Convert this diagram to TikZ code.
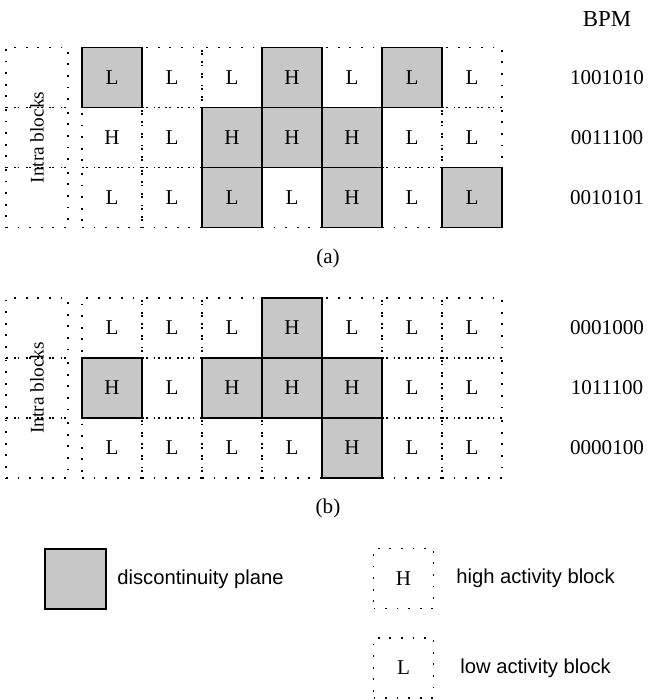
\documentclass[tikz,border=0pt]{standalone}
\usepackage{fontspec}
\setmainfont{Liberation Serif}
\newfontfamily\legendfont{Liberation Sans}
\newcommand\blkfont{\fontsize{12}{14}\selectfont}
\newcommand\legfont{\legendfont\fontsize{11.5}{13}\selectfont}
\usetikzlibrary{positioning,backgrounds}

\begin{document}
\begin{tikzpicture}[
    blk/.style={minimum width=12mm, minimum height=12mm, inner sep=0pt, outer sep=0pt,
                font=\blkfont},
    blk/0/.style={blk, draw, line width=0.9pt, dash pattern=on 1pt off 5.6pt},
    blk/1/.style={blk, draw, thick, fill=black!22},
    intra/.style={blk/0, minimum width=12.4mm},
    lbl/.style={inner sep=1pt, font=\blkfont},
    side/.style={rotate=90, inner sep=0pt, font=\fontsize{11}{13}\selectfont},
    leg/.style={font=\legfont, anchor=west, inner sep=0pt}
  ]
  \useasboundingbox (0,0) rectangle (131.2mm,140mm);

  % (a) blocks before reordering
  \node[lbl, font=\fontsize{13}{15}\selectfont] (bpm) at (121.4mm,136.2mm) {BPM};
  \foreach \row/\y/\bits [count=\r] in {
      {L/1,L/0,L/0,H/1,L/0,L/1,L/0}/124.5/1001010,
      {H/0,L/0,H/1,H/1,H/1,L/0,L/0}/112.5/0011100,
      {L/0,L/0,L/1,L/0,H/1,L/0,L/1}/100.5/0010101}{
    \node[intra] (a-intra-\r) at (7.4mm,\y mm) {};
    \foreach \t/\s [count=\c] in \row
      \node[blk/\s] (a-\r-\c) at ({10.4mm+12mm*\c},\y mm) {\t};
    \node[lbl] (a-bpm-\r) at (121.4mm,\y mm) {\bits};
  }
  \node[side] at (a-intra-2) {Intra blocks};
  \node[lbl] (capa) at (65.6mm,88.4mm) {(a)};

  % (b) blocks after reordering
  \foreach \row/\y/\bits [count=\r] in {
      {L/0,L/0,L/0,H/1,L/0,L/0,L/0}/74.4/0001000,
      {H/1,L/0,H/1,H/1,H/1,L/0,L/0}/62.4/1011100,
      {L/0,L/0,L/0,L/0,H/1,L/0,L/0}/50.4/0000100}{
    \node[intra] (b-intra-\r) at (7.4mm,\y mm) {};
    \foreach \t/\s [count=\c] in \row
      \node[blk/\s] (b-\r-\c) at ({10.4mm+12mm*\c},\y mm) {\t};
    \node[lbl] (b-bpm-\r) at (121.4mm,\y mm) {\bits};
  }
  \node[side] at (b-intra-2) {Intra blocks};
  \node[lbl] (capb) at (65.6mm,38.4mm) {(b)};

  % legend
  \node[blk/1, minimum width=12.2mm] (plane) at (15.1mm,24.2mm) {};
  \node[leg] at (23.4mm,24.2mm) {discontinuity plane};
  \node[blk/0] (hblk) at (80.7mm,24.3mm) {H};
  \node[leg] at (91.2mm,24.3mm) {high activity block};
  \node[blk/0] (lblk) at (80.7mm,6.4mm) {L};
  \node[leg] at (92mm,6.4mm) {low activity block};
\end{tikzpicture}
\end{document}
